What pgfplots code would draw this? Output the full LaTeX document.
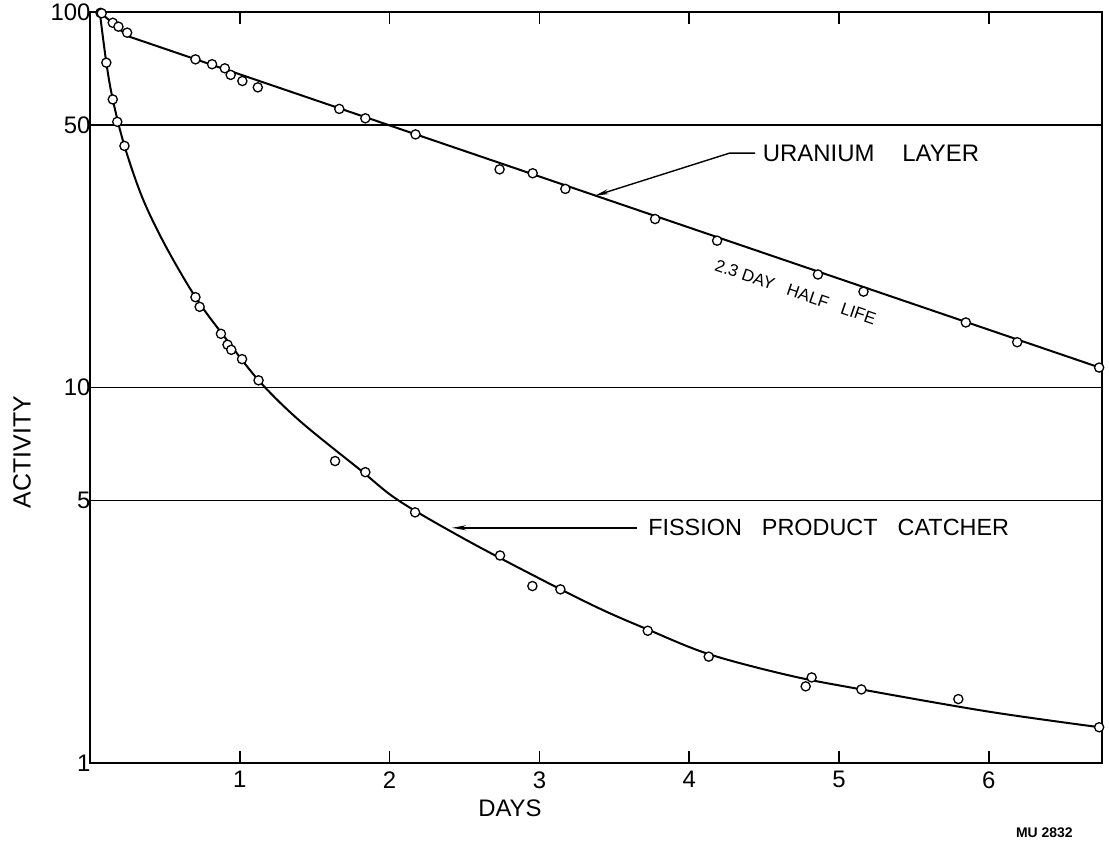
\documentclass[border=0pt]{standalone}
\usepackage{fontspec}
\setmainfont{Liberation Sans}
\usepackage{pgfplots}
\pgfplotsset{compat=1.18}
\usetikzlibrary{arrows.meta}

\begin{document}
\begin{tikzpicture}
\path[use as bounding box] (0bp,0bp) rectangle (1109bp,842bp);
\begin{axis}[
    at={(90bp,79bp)}, anchor=south west,
    width=1012bp, height=751bp, scale only axis,
    xmin=0, xmax=6.755,
    ymode=log, ymin=1, ymax=100,
    clip=false,
    axis line style={line width=2bp},
    xtick={1,2,3,4,5,6}, xticklabels={1,2,3,4,5,6},
    ytick={1,5,10,50,100}, yticklabels={1,5,10,50,100},
    yminorticks=false,
    ymajorgrids, grid style={black, line width=1.8bp},
    ytick style={draw=none},
    xtick style={black, line width=1.6bp},
    major tick length=12bp,
    tick label style={font=\fontsize{24}{24}\selectfont},
    xticklabel style={yshift=-5bp},
    yticklabel style={xshift=4bp},
]
% fission product catcher, curve
\addplot[black, line width=2bp, smooth, tension=0.55] coordinates {
  (0.065,100) (0.109,73.3) (0.152,58.5) (0.23,44) (0.35,32) (0.5,24)
  (0.704,17.4) (0.9,13.6) (1.13,10.4) (1.4,8.15) (1.8,6.05) (2.06,5.0)
  (2.5,3.95) (3.0,3.1) (3.4,2.58) (3.72,2.27) (4.13,1.95) (4.67,1.71)
  (5.15,1.57) (6.0,1.37) (6.74,1.245)
};
% uranium layer, 2.3 day line
\addplot[black, line width=2bp] coordinates {
  (0.065,100) (0.25,86.3) (6.74,11.3)
};
% measured points
\addplot[only marks, mark=*, mark size=4.6bp,
  mark options={fill=white, draw=black, line width=1.3bp}] coordinates {
  (0.07,99.5) (0.109,73.3) (0.152,58.5) (0.182,51.0) (0.23,44.0)
  (0.704,17.4) (0.732,16.4) (0.874,13.9) (0.918,13.0) (0.943,12.6)
  (1.015,11.9) (1.125,10.45) (1.636,6.37) (1.838,5.95) (2.17,4.65)
  (2.737,3.57) (2.953,2.96) (3.14,2.90) (3.723,2.25) (4.13,1.92)
  (4.777,1.60) (4.817,1.69) (5.149,1.57) (5.796,1.48) (6.736,1.245)
};
\addplot[only marks, mark=*, mark size=4.6bp,
  mark options={fill=white, draw=black, line width=1.3bp}] coordinates {
  (0.078,99.2) (0.152,93.6) (0.19,91.4) (0.248,88.1) (0.704,74.8)
  (0.815,72.6) (0.90,70.8) (0.939,68) (1.017,65.5) (1.12,63)
  (1.664,55.2) (1.838,52.1) (2.173,47.2) (2.734,38.1) (2.955,37.2)
  (3.173,33.8) (3.772,28.1) (4.186,24.6) (4.859,20.0) (5.163,18.0)
  (5.846,14.9) (6.189,13.2) (6.736,11.3)
};

% labels and arrows
\draw[line width=1.4bp, -{Stealth[length=14bp,width=5bp]}]
  (axis cs:4.44,42.1) -- (axis cs:4.27,42.1) -- (axis cs:3.37,32.4);
\node[anchor=west, inner sep=0, font=\fontsize{24}{24}\selectfont]
  at (axis cs:4.49,42.1) {URANIUM\hspace{28bp}LAYER};
\node[rotate=-19, inner sep=0, font=\fontsize{17}{17}\selectfont]
  at (axis cs:4.71,17.96) {2.3 DAY\hspace{14bp}HALF\hspace{14bp}LIFE};
\draw[line width=1.4bp, -{Stealth[length=14bp,width=5bp]}]
  (axis cs:3.65,4.23) -- (axis cs:2.417,4.23);
\node[anchor=west, inner sep=0, font=\fontsize{23.5}{24}\selectfont]
  at (axis cs:3.725,4.23) {FISSION\hspace{20bp}PRODUCT\hspace{20bp}CATCHER};

\node[rotate=90, font=\fontsize{25}{25}\selectfont]
  at (rel axis cs:-0.0672,0.414) {ACTIVITY};
\node[font=\fontsize{24}{24}\selectfont]
  at (rel axis cs:0.415,-0.06) {DAYS};
\node[font=\bfseries\fontsize{14}{14}\selectfont]
  at (rel axis cs:0.943,-0.0932) {MU 2832};
\end{axis}
\end{tikzpicture}
\end{document}
